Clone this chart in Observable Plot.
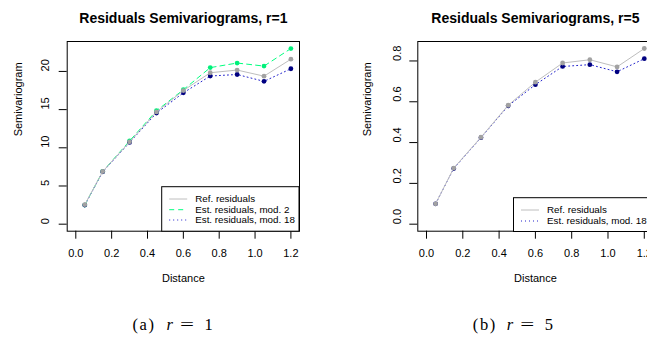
<!DOCTYPE html>
<html>
<head>
<meta charset="utf-8">
<script src="https://cdn.jsdelivr.net/npm/d3@7"></script>
<script src="https://cdn.jsdelivr.net/npm/@observablehq/plot@0.6"></script>
<style>
  body { margin: 0; background: #fff; }
  #wrap { position: relative; width: 647px; height: 337px; overflow: hidden; background: #fff;
          font-family: "Liberation Sans", Arial, sans-serif; }
  .panel { position: absolute; top: 0; }
  .overlay { position: absolute; left: 0; top: 0; }
</style>
</head>
<body>
<div id="wrap"></div>
<script>
// ---- data ----
const distance = [0.05, 0.15, 0.3, 0.45, 0.6, 0.75, 0.9, 1.05, 1.2];
const refR1   = [2.55, 6.9, 10.78, 14.7, 17.5, 19.83, 20.18, 19.38, 21.6];
const mod2R1  = [2.5, 6.9, 10.9, 14.85, 17.6, 20.5, 21.1, 20.7, 23.0];
const mod18R1 = [2.5, 6.85, 10.7, 14.55, 17.2, 19.4, 19.6, 18.7, 20.35];
const refR5   = [0.100, 0.275, 0.426, 0.583, 0.696, 0.790, 0.806, 0.771, 0.861];
const mod18R5 = [0.100, 0.273, 0.424, 0.580, 0.684, 0.773, 0.782, 0.747, 0.811];
const xTicks = [0, 0.2, 0.4, 0.6, 0.8, 1.0, 1.2];
const yTicksR1 = [0, 5, 10, 15, 20];
const yTicksR5 = [0, 0.2, 0.4, 0.6, 0.8];
const panelTitles = ["Residuals Semivariograms, r=1", "Residuals Semivariograms, r=5"];
const legendLabels = ["Ref. residuals", "Est. residuals, mod. 2", "Est. residuals, mod. 18"];
const captions = [["(a)", "r", "=", "1"], ["(b)", "r", "=", "5"]];
const xLabel = "Distance";
const yLabel = "Semivariogram";

// ---- styles ----
const sty = {
  ref:   {line: "#bebebe", dot: "#a2a2a2", dash: null},
  mod2:  {line: "#00ff7f", dot: "#00f07a", dash: "5,4"},
  mod18: {line: "#2222cc", dot: "#000080", dash: "1,3"}
};

function rows(vals) { return distance.map((d, i) => ({d, v: vals[i]})); }

function seriesMarks(vals, s) {
  const data = rows(vals);
  return [
    Plot.line(data, {x: "d", y: "v", stroke: s.line, strokeWidth: 1, strokeDasharray: s.dash}),
    Plot.dot(data, {x: "d", y: "v", r: 2.4, fill: s.dot, stroke: "none"})
  ];
}

function panel({width, marginLeft, marginRight, yDomain, yTicks, yFmt, title, series, yTickDx, yLabelDx}) {
  return Plot.plot({
    width, height: 300,
    marginLeft, marginRight, marginTop: 41, marginBottom: 69.3,
    x: {domain: [-0.048, 1.248]},
    y: {domain: yDomain},
    style: {fontFamily: "'Liberation Sans', Arial, sans-serif", fontSize: "11px", color: "#000", background: "transparent", overflow: "visible"},
    marks: [
      ...series,
      Plot.frame({stroke: "#000", strokeWidth: 1}),
      Plot.axisX({ticks: xTicks, tickSize: 8, tickPadding: 10.4, tickFormat: d3.format(".1f"), label: null, fontSize: 11, stroke: "#000"}),
      Plot.axisY({ticks: yTicks, tickSize: 8, tickFormat: () => "", label: null, stroke: "#000"}),
      Plot.text(yTicks, {y: d => d, text: yFmt, frameAnchor: "left", dx: yTickDx, rotate: -90, fontSize: 11, fill: "#000"}),
      Plot.text([title], {text: d => d, frameAnchor: "top", dy: -28.5, fontWeight: "bold", fontSize: 14, fill: "#000"}),
      Plot.text([xLabel], {text: d => d, frameAnchor: "bottom", dy: 51, fontSize: 11, fill: "#000"}),
      Plot.text([yLabel], {text: d => d, frameAnchor: "left", dx: yLabelDx, rotate: -90, fontSize: 11, fill: "#000"})
    ]
  });
}

const wrap = document.getElementById("wrap");

const left = panel({
  width: 320, marginLeft: 66.7, marginRight: 21,
  yDomain: [-0.92, 23.92], yTicks: yTicksR1, yFmt: d => String(d),
  title: panelTitles[0],
  series: [...seriesMarks(mod2R1, sty.mod2), ...seriesMarks(mod18R1, sty.mod18), ...seriesMarks(refR1, sty.ref)],
  yTickDx: -21.5, yLabelDx: -49.2
});
left.classList.add("panel");
left.style.left = "0px";
wrap.appendChild(left);

const right = panel({
  width: 340, marginLeft: 87.3, marginRight: 17.5,
  yDomain: [-0.0344, 0.8954], yTicks: yTicksR5, yFmt: d3.format(".1f"),
  title: panelTitles[1],
  series: [...seriesMarks(mod18R5, sty.mod18), ...seriesMarks(refR5, sty.ref)],
  yTickDx: -20.5, yLabelDx: -50.6
});
right.classList.add("panel");
right.style.left = "330px";
wrap.appendChild(right);

// ---- legends & captions overlay ----
const ns = "http://www.w3.org/2000/svg";
const ov = document.createElementNS(ns, "svg");
ov.setAttribute("class", "overlay");
ov.setAttribute("width", 647);
ov.setAttribute("height", 337);
wrap.appendChild(ov);

function el(tag, attrs, parent, txt) {
  const e = document.createElementNS(ns, tag);
  for (const k in attrs) e.setAttribute(k, attrs[k]);
  if (txt != null) e.textContent = txt;
  parent.appendChild(e);
  return e;
}

function legend(x0, y0, w, h, entries, rowYs) {
  const g = el("g", {transform: `translate(${x0},${y0})`}, ov);
  el("rect", {x: 0.5, y: 0.5, width: w, height: h, fill: "#fff", stroke: "#000", "stroke-width": 1}, g);
  entries.forEach((e, i) => {
    const y = rowYs[i];
    const ln = el("line", {x1: 8, x2: 26, y1: y, y2: y, stroke: e.s.line, "stroke-width": 1}, g);
    if (e.s.dash) ln.setAttribute("stroke-dasharray", e.s.dash);
    el("text", {x: 34, y: y, "dominant-baseline": "central", "font-size": 9.8,
      "font-family": "'Liberation Sans', Arial, sans-serif", fill: "#000"}, g, e.label);
  });
}

legend(161.2, 186.2, 137.3, 44.5,
  [{s: sty.ref, label: legendLabels[0]}, {s: sty.mod2, label: legendLabels[1]}, {s: sty.mod18, label: legendLabels[2]}],
  [12.8, 23.5, 33.8]);
legend(513, 197.2, 150, 33.8,
  [{s: sty.ref, label: legendLabels[0]}, {s: sty.mod18, label: legendLabels[2]}],
  [12.8, 23.8]);

function caption(dx, parts) {
  const f = "'Liberation Serif', 'DejaVu Serif', serif";
  const base = 330;
  const fs = 16.5;
  el("text", {x: 132.5 + dx, y: base, "font-size": fs, "font-family": f, "letter-spacing": 1.6}, ov, parts[0]);
  el("text", {x: 166.5 + dx, y: base, "font-size": fs, "font-family": f, "font-style": "italic"}, ov, parts[1]);
  el("text", {x: 180 + dx, y: base, "font-size": fs, "font-family": f, textLength: 14, lengthAdjust: "spacingAndGlyphs"}, ov, parts[2]);
  el("text", {x: 204.5 + dx, y: base, "font-size": fs, "font-family": f}, ov, parts[3]);
}
caption(0, captions[0]);
caption(340.3, captions[1]);
</script>
</body>
</html>
